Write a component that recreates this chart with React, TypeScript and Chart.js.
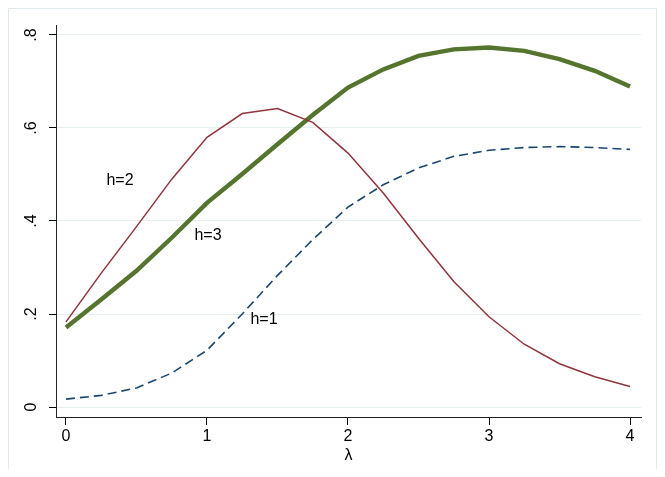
import React, { useEffect, useRef } from "react";
import { Chart, registerables } from "chart.js";

Chart.register(...registerables);

// λ values (x)
const lambda = [0, 0.25, 0.5, 0.75, 1, 1.25, 1.5, 1.75, 2, 2.25, 2.5, 2.75, 3, 3.25, 3.5, 3.75, 4];
// h=1 (dashed navy)
const h1 = [0.017, 0.025, 0.041, 0.073, 0.122, 0.2, 0.283, 0.36, 0.43, 0.478, 0.514, 0.539, 0.552, 0.558, 0.56, 0.558, 0.554];
// h=2 (thin maroon)
const h2 = [0.183, 0.288, 0.388, 0.49, 0.58, 0.631, 0.642, 0.612, 0.546, 0.46, 0.363, 0.27, 0.194, 0.135, 0.093, 0.065, 0.044];
// h=3 (thick green)
const h3 = [0.171, 0.231, 0.293, 0.364, 0.439, 0.501, 0.565, 0.628, 0.687, 0.726, 0.755, 0.769, 0.773, 0.766, 0.748, 0.723, 0.689];

const xTicks = [0, 1, 2, 3, 4];
const xTickLabels = ["0", "1", "2", "3", "4"];
const yTicks = [0, 0.2, 0.4, 0.6, 0.8];
const yTickLabels = ["0", ".2", ".4", ".6", ".8"];
const xTitle = "λ";

const curveLabels = [
  { text: "h=2", x: 0.383, y: 0.486 },
  { text: "h=3", x: 1.007, y: 0.368 },
  { text: "h=1", x: 1.404, y: 0.187 },
];

const FONT = "'Liberation Sans', Arial, Helvetica, sans-serif";

export default function App() {
  const ref = useRef<HTMLCanvasElement | null>(null);

  useEffect(() => {
    document.body.style.overflow = "hidden";
    const canvas = ref.current;
    if (!canvas) return;

    const overlay = {
      id: "overlay",
      afterDraw(chart: any) {
        const ctx = chart.ctx;
        const xs = chart.scales.x;
        const ys = chart.scales.y;
        ctx.save();
        // outer graph region outline
        ctx.strokeStyle = "#dfe8ea";
        ctx.lineWidth = 1;
        ctx.beginPath();
        ctx.moveTo(0.5, chart.height);
        ctx.lineTo(0.5, 0.5);
        ctx.lineTo(chart.width - 0.5, 0.5);
        ctx.lineTo(chart.width - 0.5, chart.height);
        ctx.stroke();

        // rotated y tick labels
        ctx.fillStyle = "#000";
        ctx.font = `16px ${FONT}`;
        ctx.textAlign = "center";
        ctx.textBaseline = "middle";
        yTicks.forEach((v, i) => {
          const py = ys.getPixelForValue(v);
          ctx.save();
          ctx.translate(24, py);
          ctx.rotate(-Math.PI / 2);
          ctx.fillText(yTickLabels[i], 0, 0);
          ctx.restore();
        });

        // curve labels
        ctx.font = `16px ${FONT}`;
        curveLabels.forEach((l) => {
          ctx.fillText(l.text, xs.getPixelForValue(l.x), ys.getPixelForValue(l.y));
        });
        ctx.restore();
      },
    };

    const mk = (ys: number[]) => lambda.map((x, i) => ({ x, y: ys[i] }));

    const chart = new Chart(canvas, {
      type: "line",
      data: {
        datasets: [
          {
            label: "h=1",
            data: mk(h1),
            borderColor: "#1a476f",
            borderWidth: 1.6,
            borderDash: [9, 5],
            pointRadius: 0,
            tension: 0,
          },
          {
            label: "h=2",
            data: mk(h2),
            borderColor: "#90353b",
            borderWidth: 1.5,
            pointRadius: 0,
            tension: 0,
          },
          {
            label: "h=3",
            data: mk(h3),
            borderColor: "#55752f",
            borderWidth: 4.4,
            pointRadius: 0,
            tension: 0,
          },
        ],
      },
      options: {
        responsive: false,
        animation: false,
        devicePixelRatio: 1,
        layout: { padding: { left: 0, top: 17, right: 16, bottom: 0 } },
        plugins: {
          legend: { display: false },
          tooltip: { enabled: false },
        },
        scales: {
          x: {
            type: "linear",
            min: -0.0709,
            max: 4.078,
            afterBuildTicks: (s: any) => {
              s.ticks = xTicks.map((v) => ({ value: v }));
            },
            afterFit: (s: any) => {
              s.height = 52;
            },
            ticks: {
              color: "#000",
              font: { family: FONT, size: 16 },
              padding: 2,
              maxRotation: 0,
              callback: (v: any) => {
                const i = xTicks.indexOf(Number(v));
                return i >= 0 ? xTickLabels[i] : "";
              },
            },
            grid: {
              drawOnChartArea: false,
              drawTicks: true,
              tickLength: 8,
              tickColor: "#000",
            },
            border: { color: "#222", width: 1 },
            title: {
              display: true,
              text: xTitle,
              color: "#000",
              font: { family: FONT, size: 16 },
              padding: { top: 0, bottom: 4 },
            },
          },
          y: {
            type: "linear",
            min: -0.0215,
            max: 0.8215,
            afterBuildTicks: (s: any) => {
              s.ticks = yTicks.map((v) => ({ value: v }));
            },
            afterFit: (s: any) => {
              s.width = 48;
            },
            ticks: { display: false },
            grid: {
              color: "#e6eef0",
              lineWidth: 1,
              drawTicks: true,
              tickLength: 7,
              tickColor: "#000",
            },
            border: { color: "#222", width: 1 },
          },
        },
      },
      plugins: [overlay],
    });

    return () => chart.destroy();
  }, []);

  return (
    <div style={{ width: 649, height: 461 }}>
      <canvas ref={ref} width={649} height={461} style={{ display: "block" }} />
    </div>
  );
}
